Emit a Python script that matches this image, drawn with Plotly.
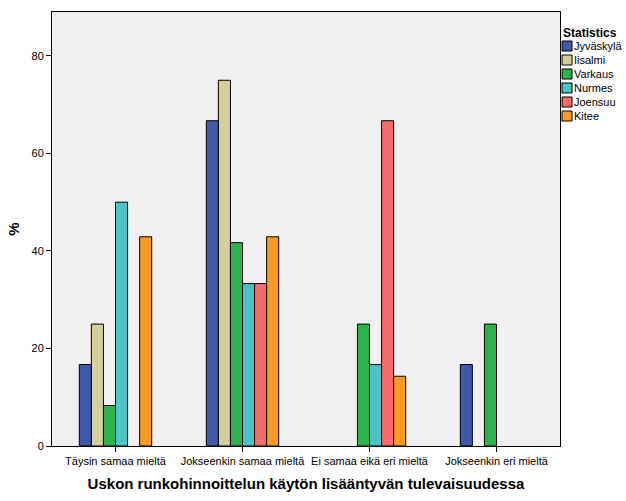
import plotly.graph_objects as go

categories = ["Täysin samaa mieltä", "Jokseenkin samaa mieltä", "Ei samaa eikä eri mieltä", "Jokseenkin eri mieltä"]
series_names = ["Jyväskylä", "Iisalmi", "Varkaus", "Nurmes", "Joensuu", "Kitee"]
jyvaskyla = [16.7, 66.7, 0, 16.7]
iisalmi = [25.0, 75.0, 0, 0]
varkaus = [8.3, 41.7, 25.0, 25.0]
nurmes = [50.0, 33.3, 16.7, 0]
joensuu = [0, 33.3, 66.7, 0]
kitee = [42.9, 42.9, 14.3, 0]
series_values = [jyvaskyla, iisalmi, varkaus, nurmes, joensuu, kitee]
colors = ["#3e58ac", "#d3cf9b", "#2db34e", "#4cc3c6", "#f96a6c", "#f99a22"]
y_ticks = [0, 20, 40, 60, 80]
legend_title = "Statistics"

FONT = "Arial, Liberation Sans, sans-serif"
W, H = 626, 501
L, R, T, B = 52, 66, 12, 55
PW, PH = W - L - R, H - T - B


def px_x(px):
    return (px - L) / PW


def px_y(py):
    return (H - B - py) / PH


fig = go.Figure()
for name, vals, col in zip(series_names, series_values, colors):
    fig.add_trace(go.Bar(
        x=categories, y=vals, name=name,
        marker=dict(color=col,
                    line=dict(color="black", width=[1 if v > 0 else 0 for v in vals])),
        showlegend=False,
    ))

# Manual legend (compact, SPSS style)
shapes = []
annotations = [dict(
    text="<b>" + legend_title + "</b>", xref="paper", yref="paper",
    x=px_x(561), y=px_y(33), xanchor="left", yanchor="middle",
    showarrow=False, font=dict(family=FONT, size=12, color="black"),
)]
for i, (name, col) in enumerate(zip(series_names, colors)):
    cy = 46 + 14 * i
    shapes.append(dict(
        type="rect", xref="paper", yref="paper",
        x0=px_x(562), x1=px_x(572), y0=px_y(cy - 5), y1=px_y(cy + 5),
        fillcolor=col, line=dict(color="black", width=1),
    ))
    annotations.append(dict(
        text=name, xref="paper", yref="paper",
        x=px_x(572), y=px_y(cy), xanchor="left", yanchor="middle",
        showarrow=False, font=dict(family=FONT, size=11, color="black"),
    ))

fig.update_layout(
    width=W, height=H,
    margin=dict(l=L, r=R, t=T, b=B, autoexpand=False),
    paper_bgcolor="white",
    plot_bgcolor="#f0f0f0",
    barmode="group",
    bargap=0.43,
    bargroupgap=0,
    font=dict(family=FONT, size=11, color="black"),
    showlegend=False,
    shapes=shapes,
    annotations=annotations,
    xaxis=dict(
        title=dict(text="<b>Uskon runkohinnoittelun käytön lisääntyvän tulevaisuudessa</b>",
                   font=dict(size=15), standoff=12),
        tickangle=0,
        showline=True, linecolor="black", linewidth=1, mirror=True,
        ticks="outside", ticklen=5, tickcolor="black",
        showgrid=False,
    ),
    yaxis=dict(
        title=dict(text="<b>%</b>", font=dict(size=15), standoff=8),
        range=[0, 89],
        tickvals=y_ticks,
        showline=True, linecolor="black", linewidth=1, mirror=True,
        ticks="outside", ticklen=5, tickcolor="black",
        showgrid=False, zeroline=False,
    ),
)

fig.write_html("out.html")
